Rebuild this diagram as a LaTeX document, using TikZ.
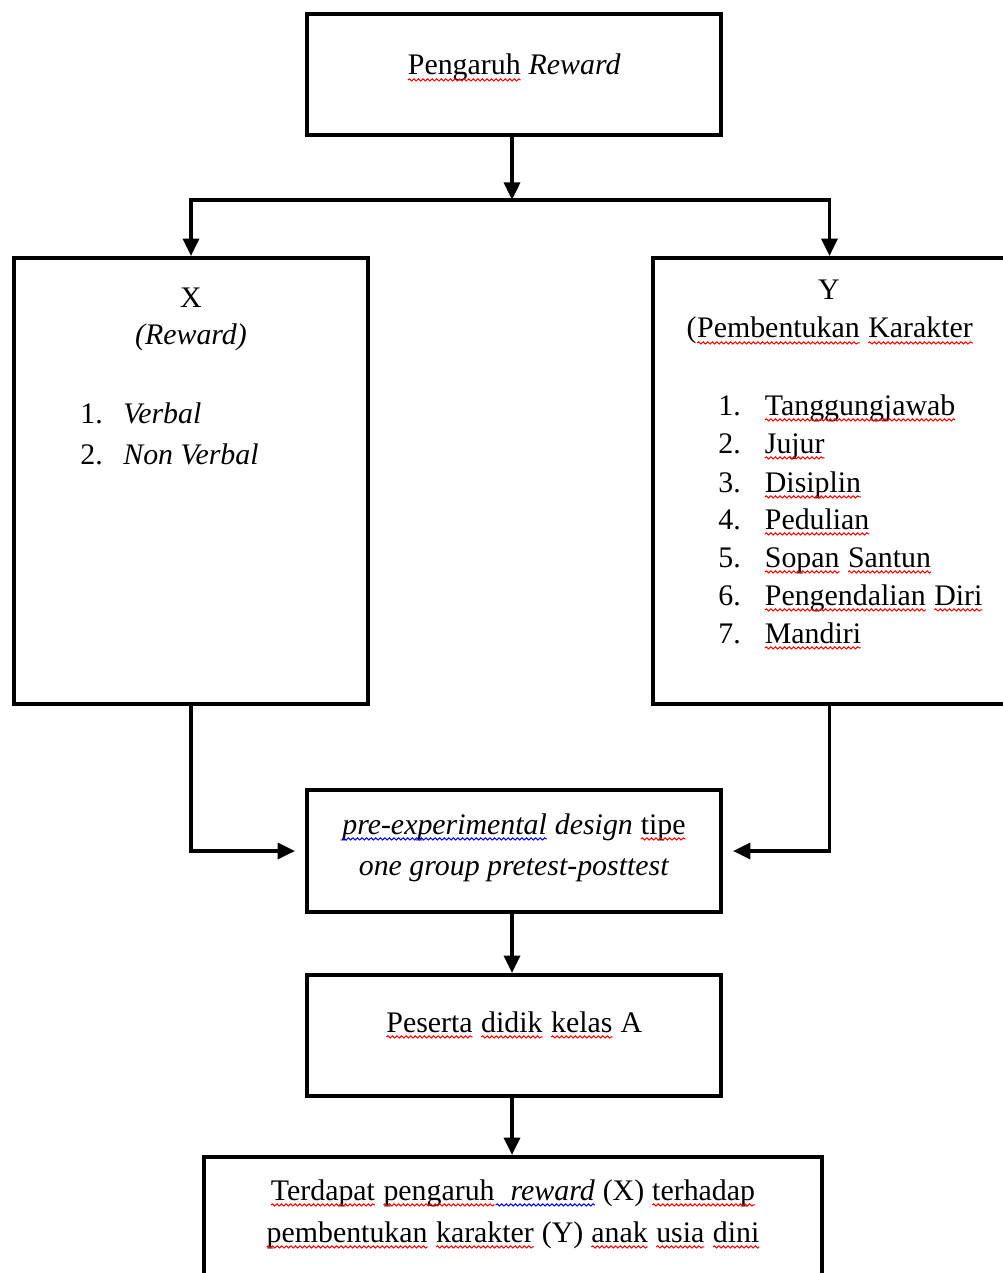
\documentclass[tikz,border=0pt]{standalone}
\usepackage{fontspec}
\setmainfont{Liberation Serif}
\usetikzlibrary{arrows.meta, decorations.pathmorphing}

\newcommand{\wavy}[2]{\tikz[baseline=(w.base)]{\node[inner sep=0pt, outer sep=0pt] (w) {#2};
    \draw[#1, line width=0.6pt, decorate, decoration={snake, amplitude=0.6pt, segment length=2.6pt}]
      ([yshift=-2.8pt]w.base west) -- ([yshift=-2.8pt]w.base east);}}
\newcommand{\redwave}[1]{\wavy{red}{#1}}
\newcommand{\bluewave}[1]{\wavy{blue}{#1}}

\begin{document}
\begin{tikzpicture}[x=0.02cm, y=-0.02cm,
    box/.style={draw, line width=2.2pt, inner sep=0pt},
    txt/.style={inner sep=0pt, anchor=base, font=\fontsize{17}{20}\selectfont},
    conn/.style={line width=2.2pt},
    arr/.style={conn, -{Triangle[length=10pt, width=9pt]}}]
    \path[use as bounding box] (0,0) rectangle (1002,1273);

    % boxes
    \node[box, minimum width=8.28cm, minimum height=2.42cm] (top) at (514,74.5) {};
    \node[box, minimum width=7.08cm, minimum height=8.92cm] (X) at (191,481) {};
    \node[box, minimum width=7.06cm, minimum height=8.92cm] (Y) at (829.5,481) {};
    \node[box, minimum width=8.28cm, minimum height=2.44cm] (design) at (514,851) {};
    \node[box, minimum width=8.28cm, minimum height=2.42cm] (peserta) at (514,1035.5) {};
    \node[box, minimum width=12.36cm, minimum height=2.86cm] (hasil) at (513,1228.5) {};

    % texts
    \node[txt] (t-top) at (514,75) {\redwave{Pengaruh} \textit{Reward}};

    \node[txt] (t-x) at (191,308) {X};
    \node[txt] (t-xsub) at (191,345) {\textit{(Reward)}};
    \node[txt, anchor=base west] (x1n) at (80,423) {1.};
    \node[txt, anchor=base west] (x1) at (123,423) {\textit{Verbal}};
    \node[txt, anchor=base west] (x2n) at (80,464) {2.};
    \node[txt, anchor=base west] (x2) at (123,464) {\textit{Non Verbal}};

    \node[txt] (t-y) at (829,300) {Y};
    \node[txt] (t-ysub) at (830,338) {(\redwave{Pembentukan} \redwave{Karakter}};
    \node[txt, anchor=base west] (y1n) at (718,415) {1.};
    \node[txt, anchor=base west] (y1) at (764,415) {\redwave{Tanggungjawab}};
    \node[txt, anchor=base west] (y2n) at (718,453) {2.};
    \node[txt, anchor=base west] (y2) at (764,453) {\redwave{Jujur}};
    \node[txt, anchor=base west] (y3n) at (718,492) {3.};
    \node[txt, anchor=base west] (y3) at (764,492) {\redwave{Disiplin}};
    \node[txt, anchor=base west] (y4n) at (718,529) {4.};
    \node[txt, anchor=base west] (y4) at (764,529) {\redwave{Pedulian}};
    \node[txt, anchor=base west] (y5n) at (718,567) {5.};
    \node[txt, anchor=base west] (y5) at (764,567) {\redwave{Sopan} \redwave{Santun}};
    \node[txt, anchor=base west] (y6n) at (718,605) {6.};
    \node[txt, anchor=base west] (y6) at (764,605) {\redwave{Pengendalian} \redwave{Diri}};
    \node[txt, anchor=base west] (y7n) at (718,643) {7.};
    \node[txt, anchor=base west] (y7) at (764,643) {\redwave{Mandiri}};

    \node[txt] (t-design1) at (514,834) {\bluewave{\textit{pre-experimental}} \textit{design} \redwave{tipe}};
    \node[txt] (t-design2) at (514,875) {\textit{one group pretest-posttest}};

    \node[txt] (t-peserta) at (514,1032) {\redwave{Peserta} \redwave{didik} \redwave{kelas} A};

    \node[txt] (t-hasil1) at (513,1200) {\redwave{Terdapat} \redwave{pengaruh}\bluewave{\ \ \textit{reward}} (X) \redwave{terhadap}};
    \node[txt] (t-hasil2) at (513,1242) {\redwave{pembentukan} \redwave{karakter} (Y) \redwave{anak} \redwave{usia} \redwave{dini}};

    % connectors
    \coordinate (split) at (512,200);
    \draw[arr] (top.south -| split) -- (split);
    \draw[arr] (split) -| (X.north);
    \draw[arr] (split) -| (Y.north);
    \draw[arr, shorten >=0.2cm] (X.south) |- (design.west);
    \draw[arr, shorten >=0.2cm] (Y.south) |- (design.east);
    \draw[arr] (design.south -| split) -- (peserta.north -| split);
    \draw[arr] (peserta.south -| split) -- (hasil.north -| split);
    \end{tikzpicture}
\end{document}
